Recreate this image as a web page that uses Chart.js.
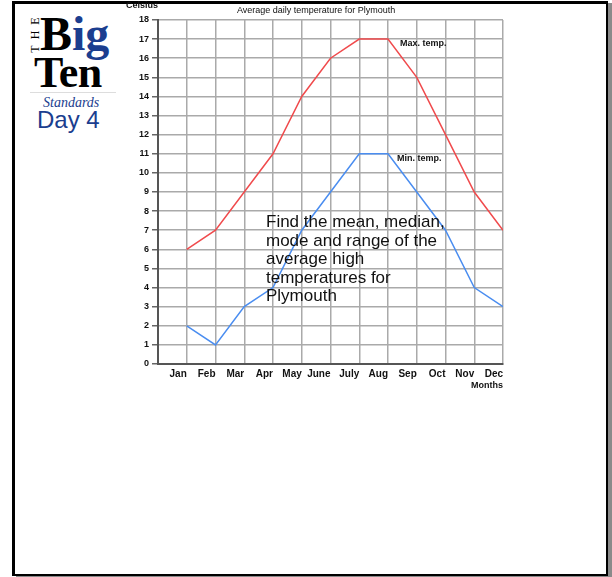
<!DOCTYPE html>
<html>
<head>
<meta charset="utf-8">
<script src="https://cdn.jsdelivr.net/npm/chart.js@4"></script>
<style>
  body { margin: 0; background: #fff; width: 612px; height: 577px; position: relative; overflow: hidden; }
  .frame { position: absolute; left: 12px; top: 1px; width: 591px; height: 570px;
           border: 2px solid #000; border-left-width: 3px; border-top-width: 3px; box-shadow: 4px 2px 0 #8a8a8a; }
  .logo { position: absolute; line-height: 1; white-space: nowrap; }
  #chartBox { position: absolute; left: 100px; top: 0; width: 420px; height: 400px; }
  .task { position: absolute; left: 266px; top: 213px; font: 17px "Liberation Sans", Arial, sans-serif;
          line-height: 18.5px; color: #111; white-space: nowrap; }
</style>
</head>
<body>
<div class="frame"></div>

<!-- logo, top left -->
<div class="logo" style="left:35px;top:32px;font:12px 'Liberation Serif',serif;letter-spacing:6px;transform:translate(-50%,-50%) rotate(-90deg);">THE</div>
<div class="logo" style="left:40px;top:6px;font:bold 48px 'Liberation Serif',serif;"><span style="color:#000">B</span><span style="color:#1b3e8f">ig</span></div>
<div class="logo" style="left:34px;top:47px;font:bold 44px 'Liberation Serif',serif;letter-spacing:-0.5px;color:#000">Ten</div>
<div class="logo" style="left:30px;top:92px;width:86px;height:1px;background:#ddd"></div>
<div class="logo" style="left:43px;top:95px;font:italic 14px 'Liberation Serif',serif;color:#1b3e8f">Standards</div>
<div class="logo" style="left:37px;top:106px;font:24px 'Liberation Sans',Arial,sans-serif;color:#1b3e8f">Day 4</div>

<div id="chartBox"><canvas id="tempChart"></canvas></div>

<div class="task">Find the mean, median,<br>mode and range of the<br>average high<br>temperatures for<br>Plymouth</div>

<script>
// months along the bottom, one per gridline
const months = ['Jan', 'Feb', 'Mar', 'Apr', 'May', 'June', 'July', 'Aug', 'Sep', 'Oct', 'Nov', 'Dec'];
// degrees celsius
const maxTemp = [6, 7, 9, 11, 14, 16, 17, 17, 15, 12, 9, 7];
const minTemp = [2, 1, 3, 4, 7, 9, 11, 11, 9, 7, 4, 3];
const yTicks = [0, 18];

const font = "'Liberation Sans', Arial, sans-serif";

// month number 1..12 goes on x, axis sits at 0
function toPoints(values) {
  return values.map(function (v, i) { return { x: i + 1, y: v }; });
}

// the little texts: title, axis names, line names
const chartTexts = {
  id: 'chartTexts',
  afterDraw(chart) {
    const ctx = chart.ctx;
    const xs = chart.scales.x;
    const ys = chart.scales.y;
    const area = chart.chartArea;
    ctx.save();
    ctx.fillStyle = '#111';
    ctx.textBaseline = 'middle';

    ctx.font = '9px ' + font;
    ctx.textAlign = 'center';
    ctx.fillText('Average daily temperature for Plymouth', xs.getPixelForValue(5.5), 11);

    ctx.font = 'bold 9px ' + font;
    ctx.textAlign = 'right';
    ctx.fillText('Celsius', area.left, 6);
    ctx.fillText('Months', area.right, 386);

    ctx.textAlign = 'left';
    ctx.fillText('Max. temp.', xs.getPixelForValue(8.42), ys.getPixelForValue(16.75));
    ctx.fillText('Min. temp.', xs.getPixelForValue(8.31), ys.getPixelForValue(10.73));
    ctx.restore();
  }
};

new Chart(document.getElementById('tempChart'), {
  type: 'line',
  data: {
    datasets: [{
      label: 'Max. temp.',
      data: toPoints(maxTemp),
      borderColor: '#f04a4c',
      borderWidth: 1.5,
      pointRadius: 0,
      tension: 0
    }, {
      label: 'Min. temp.',
      data: toPoints(minTemp),
      borderColor: '#4a8df0',
      borderWidth: 1.5,
      pointRadius: 0,
      tension: 0
    }]
  },
  options: {
    responsive: true,
    maintainAspectRatio: false,
    animation: false,
    layout: { padding: { left: 8, right: 17, top: 20, bottom: 0 } },
    plugins: {
      legend: { display: false },
      tooltip: { enabled: false }
    },
    scales: {
      x: {
        type: 'linear',
        min: 0,
        max: months.length,
        afterFit: function (scale) { scale.height = 36; },
        border: { color: '#555', width: 2 },
        grid: { color: '#aaa', lineWidth: 1.5, drawTicks: false },
        ticks: {
          stepSize: 1,
          autoSkip: false,
          maxRotation: 0,
          align: 'end',
          padding: 4,
          color: '#111',
          font: { family: font, size: 10, weight: 'bold' },
          callback: function (value) { return value >= 1 ? months[value - 1] : ''; }
        }
      },
      y: {
        min: yTicks[0],
        max: yTicks[1],
        afterFit: function (scale) { scale.width = 50; },
        border: { color: '#555', width: 2 },
        grid: { color: '#aaa', lineWidth: 1.5, tickColor: '#666', tickLength: 6 },
        ticks: {
          stepSize: 1,
          padding: 3,
          color: '#111',
          font: { family: font, size: 9, weight: 'bold' }
        }
      }
    }
  },
  plugins: [chartTexts]
});
</script>
</body>
</html>
